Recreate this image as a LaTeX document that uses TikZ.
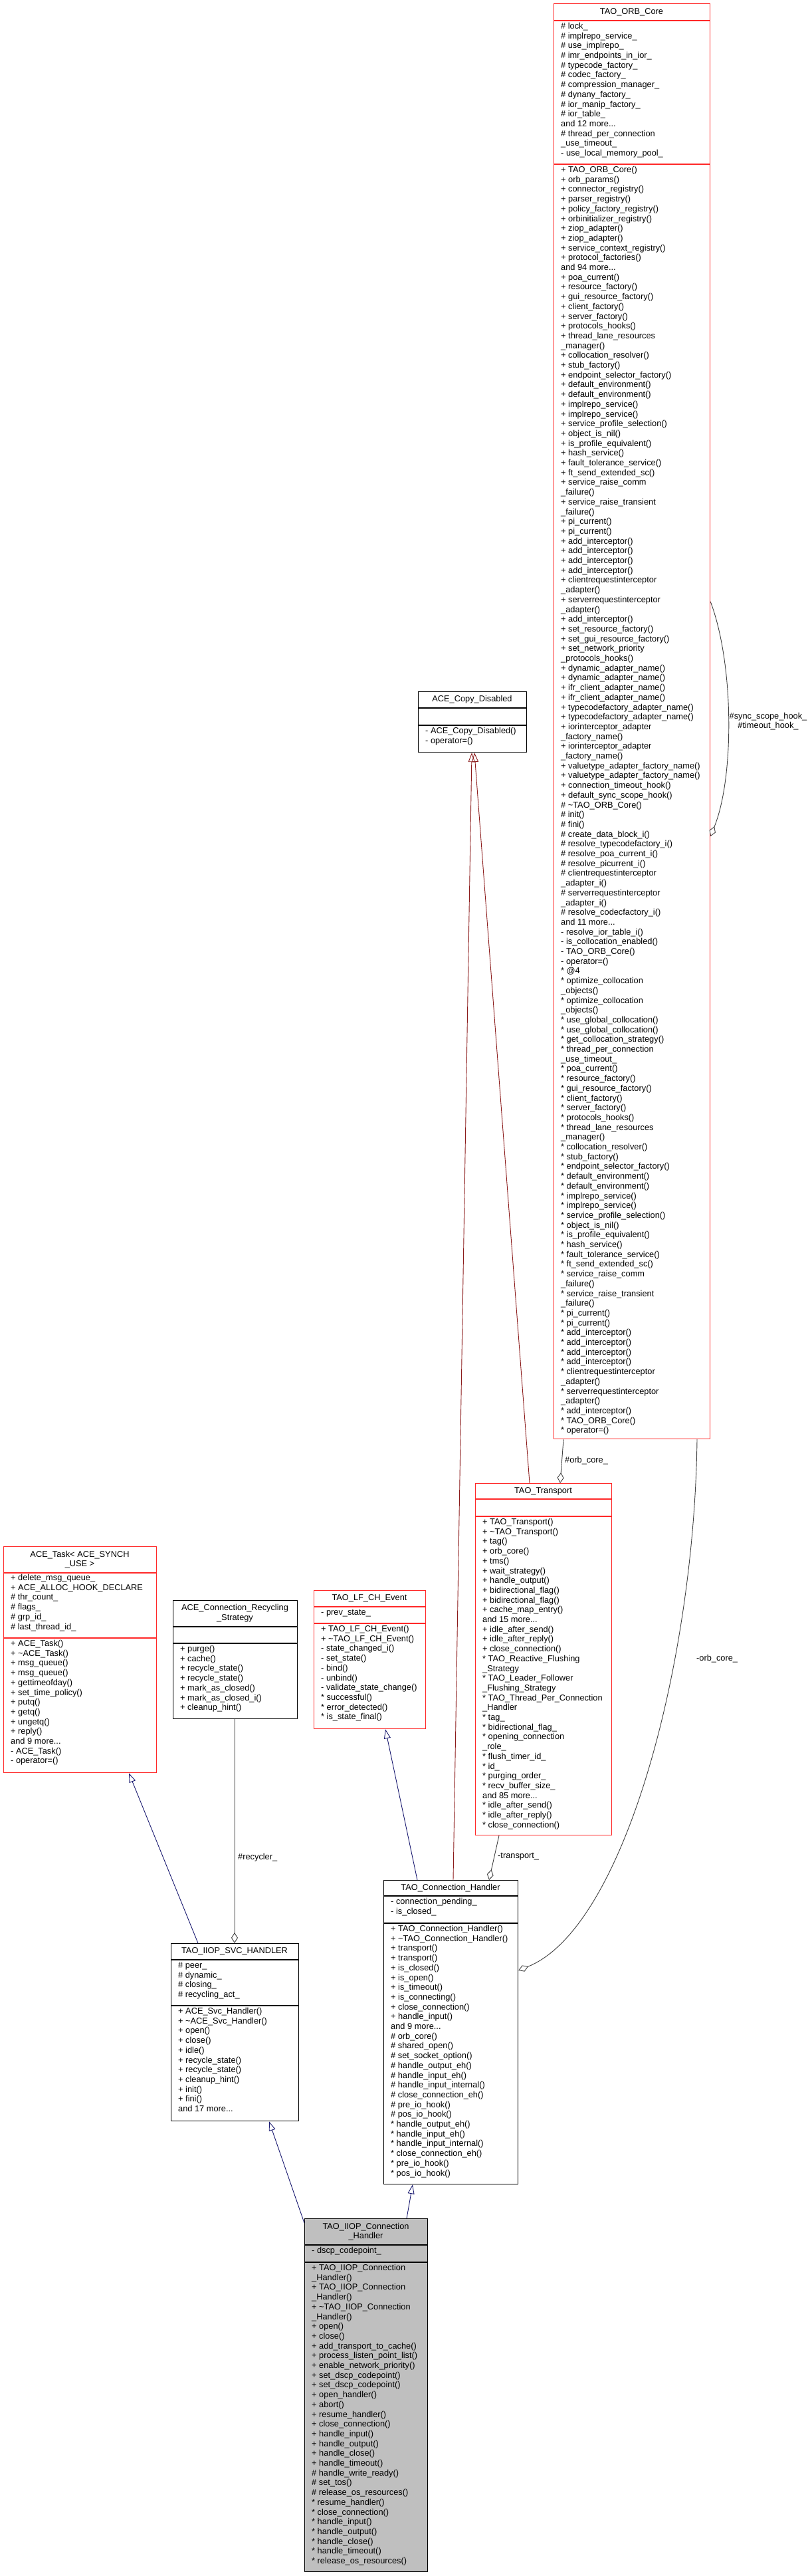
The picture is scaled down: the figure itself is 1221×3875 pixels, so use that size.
\documentclass[tikz,border=0pt]{standalone}
\usepackage{fontspec}
\setmainfont{Liberation Sans}
\usetikzlibrary{arrows.meta,calc}
\definecolor{redb}{RGB}{255,40,40}
\definecolor{inhc}{RGB}{25,25,112}
\definecolor{usec}{RGB}{64,64,64}
\definecolor{privc}{RGB}{139,26,26}
\definecolor{fillg}{RGB}{191,191,191}
\catcode`\_=12
\tikzset{
  x=1pt,y=-1pt,
  cls/.style={draw, line width=1.2pt, inner sep=0pt, anchor=north west},
  redbox/.style={cls, draw=redb},
  blkbox/.style={cls, draw=black},
  txt/.style={anchor=north west, inner sep=0pt, yshift=2pt, font=\fontsize{12.8}{14.7}\selectfont},
  ttl/.style={anchor=center, align=center, inner sep=0pt, font=\fontsize{12.8}{14.7}\selectfont},
  lbl/.style={anchor=west, align=center, inner sep=0pt, font=\fontsize{12.8}{14.7}\selectfont},
  inh/.style={draw=inhc, line width=0.9pt, -{Triangle[open, length=14pt, width=10pt]}},
  priv/.style={draw=privc, line width=0.9pt, -{Triangle[open, length=14pt, width=10pt]}},
  use/.style={draw=usec, line width=0.9pt, -{Diamond[open, length=16pt, width=10pt]}},
}
\newcommand{\tl}{\textasciitilde}
\newcommand{\st}{{*}}
\newcommand{\LL}[1]{\begin{tabular}{@{}l@{}}#1\end{tabular}}
\begin{document}
\begin{tikzpicture}
\useasboundingbox (0,0) rectangle (1221,3875);
\fill[white] (0,0) rectangle (1221,3875);

% ---------- TAO_ORB_Core
\node[redbox, minimum width=235pt, minimum height=2159pt] (orb) at (833,5) {};
\draw[redb, line width=1.2pt] (833,31) -- (1068,31) (833,247) -- (1068,247);
\node[ttl] (orbt) at (950.5,18) {TAO_ORB_Core};
\node[txt] (orba) at (844,35) {\LL{\# lock_\\\# implrepo_service_\\\# use_implrepo_\\\# imr_endpoints_in_ior_\\\# typecode_factory_\\\# codec_factory_\\\# compression_manager_\\\# dynany_factory_\\\# ior_manip_factory_\\\# ior_table_\\and 12 more...\\\# thread_per_connection\\_use_timeout_\\- use_local_memory_pool_}};
\node[txt] (orbm) at (844,251) {\LL{+ TAO_ORB_Core()\\+ orb_params()\\+ connector_registry()\\+ parser_registry()\\+ policy_factory_registry()\\+ orbinitializer_registry()\\+ ziop_adapter()\\+ ziop_adapter()\\+ service_context_registry()\\+ protocol_factories()\\and 94 more...\\+ poa_current()\\+ resource_factory()\\+ gui_resource_factory()\\+ client_factory()\\+ server_factory()\\+ protocols_hooks()\\+ thread_lane_resources\\_manager()\\+ collocation_resolver()\\+ stub_factory()\\+ endpoint_selector_factory()\\+ default_environment()\\+ default_environment()\\+ implrepo_service()\\+ implrepo_service()\\+ service_profile_selection()\\+ object_is_nil()\\+ is_profile_equivalent()\\+ hash_service()\\+ fault_tolerance_service()\\+ ft_send_extended_sc()\\+ service_raise_comm\\_failure()\\+ service_raise_transient\\_failure()\\+ pi_current()\\+ pi_current()\\+ add_interceptor()\\+ add_interceptor()\\+ add_interceptor()\\+ add_interceptor()\\+ clientrequestinterceptor\\_adapter()\\+ serverrequestinterceptor\\_adapter()\\+ add_interceptor()\\+ set_resource_factory()\\+ set_gui_resource_factory()\\+ set_network_priority\\_protocols_hooks()\\+ dynamic_adapter_name()\\+ dynamic_adapter_name()\\+ ifr_client_adapter_name()\\+ ifr_client_adapter_name()\\+ typecodefactory_adapter_name()\\+ typecodefactory_adapter_name()\\+ iorinterceptor_adapter\\_factory_name()\\+ iorinterceptor_adapter\\_factory_name()\\+ valuetype_adapter_factory_name()\\+ valuetype_adapter_factory_name()\\+ connection_timeout_hook()\\+ default_sync_scope_hook()\\\# \tl TAO_ORB_Core()\\\# init()\\\# fini()\\\# create_data_block_i()\\\# resolve_typecodefactory_i()\\\# resolve_poa_current_i()\\\# resolve_picurrent_i()\\\# clientrequestinterceptor\\_adapter_i()\\\# serverrequestinterceptor\\_adapter_i()\\\# resolve_codecfactory_i()\\and 11 more...\\- resolve_ior_table_i()\\- is_collocation_enabled()\\- TAO_ORB_Core()\\- operator=()\\\st{} @4\\\st{} optimize_collocation\\_objects()\\\st{} optimize_collocation\\_objects()\\\st{} use_global_collocation()\\\st{} use_global_collocation()\\\st{} get_collocation_strategy()\\\st{} thread_per_connection\\_use_timeout_\\\st{} poa_current()\\\st{} resource_factory()\\\st{} gui_resource_factory()\\\st{} client_factory()\\\st{} server_factory()\\\st{} protocols_hooks()\\\st{} thread_lane_resources\\_manager()\\\st{} collocation_resolver()\\\st{} stub_factory()\\\st{} endpoint_selector_factory()\\\st{} default_environment()\\\st{} default_environment()\\\st{} implrepo_service()\\\st{} implrepo_service()\\\st{} service_profile_selection()\\\st{} object_is_nil()\\\st{} is_profile_equivalent()\\\st{} hash_service()\\\st{} fault_tolerance_service()\\\st{} ft_send_extended_sc()\\\st{} service_raise_comm\\_failure()\\\st{} service_raise_transient\\_failure()\\\st{} pi_current()\\\st{} pi_current()\\\st{} add_interceptor()\\\st{} add_interceptor()\\\st{} add_interceptor()\\\st{} add_interceptor()\\\st{} clientrequestinterceptor\\_adapter()\\\st{} serverrequestinterceptor\\_adapter()\\\st{} add_interceptor()\\\st{} TAO_ORB_Core()\\\st{} operator=()}};

% ---------- ACE_Copy_Disabled
\node[blkbox, minimum width=163pt, minimum height=91pt] (cd) at (629,1040) {};
\draw[black, line width=1.2pt] (629,1065) -- (792,1065) (629,1091) -- (792,1091);
\node[ttl] (cdt) at (710.5,1052.5) {ACE_Copy_Disabled};
\node[txt] (cdm) at (640,1095) {\LL{- ACE_Copy_Disabled()\\- operator=()}};

% ---------- ACE_Task
\node[redbox, minimum width=230pt, minimum height=340pt] (task) at (5,2326) {};
\draw[redb, line width=1.2pt] (5,2366) -- (235,2366) (5,2464) -- (235,2464);
\node[ttl] (taskt) at (120,2346) {ACE_Task< ACE_SYNCH\\_USE >};
\node[txt] (taska) at (16,2369) {\LL{+ delete_msg_queue_\\+ ACE_ALLOC_HOOK_DECLARE\\\# thr_count_\\\# flags_\\\# grp_id_\\\# last_thread_id_}};
\node[txt] (taskm) at (16,2468) {\LL{+ ACE_Task()\\+ \tl ACE_Task()\\+ msg_queue()\\+ msg_queue()\\+ gettimeofday()\\+ set_time_policy()\\+ putq()\\+ getq()\\+ ungetq()\\+ reply()\\and 9 more...\\- ACE_Task()\\- operator=()}};

% ---------- ACE_Connection_Recycling_Strategy
\node[blkbox, minimum width=187pt, minimum height=178pt] (rec) at (260,2407) {};
\draw[black, line width=1.2pt] (260,2447) -- (447,2447) (260,2472) -- (447,2472);
\node[ttl] (rect) at (353.5,2427) {ACE_Connection_Recycling\\_Strategy};
\node[txt] (recm) at (271,2476) {\LL{+ purge()\\+ cache()\\+ recycle_state()\\+ recycle_state()\\+ mark_as_closed()\\+ mark_as_closed_i()\\+ cleanup_hint()}};

% ---------- TAO_LF_CH_Event
\node[redbox, minimum width=168pt, minimum height=208pt] (lf) at (472,2392) {};
\draw[redb, line width=1.2pt] (472,2417) -- (640,2417) (472,2442) -- (640,2442);
\node[ttl] (lft) at (556,2404.5) {TAO_LF_CH_Event};
\node[txt] (lfa) at (483,2421) {\LL{- prev_state_}};
\node[txt] (lfm) at (483,2446) {\LL{+ TAO_LF_CH_Event()\\+ \tl TAO_LF_CH_Event()\\- state_changed_i()\\- set_state()\\- bind()\\- unbind()\\- validate_state_change()\\\st{} successful()\\\st{} error_detected()\\\st{} is_state_final()}};

% ---------- TAO_Transport
\node[redbox, minimum width=205pt, minimum height=529pt] (tr) at (715,2231) {};
\draw[redb, line width=1.2pt] (715,2255) -- (920,2255) (715,2281) -- (920,2281);
\node[ttl] (trt) at (817.5,2243) {TAO_Transport};
\node[txt] (trm) at (726,2285) {\LL{+ TAO_Transport()\\+ \tl TAO_Transport()\\+ tag()\\+ orb_core()\\+ tms()\\+ wait_strategy()\\+ handle_output()\\+ bidirectional_flag()\\+ bidirectional_flag()\\+ cache_map_entry()\\and 15 more...\\+ idle_after_send()\\+ idle_after_reply()\\+ close_connection()\\\st{} TAO_Reactive_Flushing\\_Strategy\\\st{} TAO_Leader_Follower\\_Flushing_Strategy\\\st{} TAO_Thread_Per_Connection\\_Handler\\\st{} tag_\\\st{} bidirectional_flag_\\\st{} opening_connection\\_role_\\\st{} flush_timer_id_\\\st{} id_\\\st{} purging_order_\\\st{} recv_buffer_size_\\and 85 more...\\\st{} idle_after_send()\\\st{} idle_after_reply()\\\st{} close_connection()}};

% ---------- TAO_IIOP_SVC_HANDLER
\node[blkbox, minimum width=192pt, minimum height=267pt] (svc) at (257,2923) {};
\draw[black, line width=1.2pt] (257,2948) -- (449,2948) (257,3017) -- (449,3017);
\node[ttl] (svct) at (353,2935.5) {TAO_IIOP_SVC_HANDLER};
\node[txt] (svca) at (268,2952) {\LL{\# peer_\\\# dynamic_\\\# closing_\\\# recycling_act_}};
\node[txt] (svcm) at (268,3021) {\LL{+ ACE_Svc_Handler()\\+ \tl ACE_Svc_Handler()\\+ open()\\+ close()\\+ idle()\\+ recycle_state()\\+ recycle_state()\\+ cleanup_hint()\\+ init()\\+ fini()\\and 17 more...}};

% ---------- TAO_Connection_Handler
\node[blkbox, minimum width=202pt, minimum height=457pt] (ch) at (577,2828) {};
\draw[black, line width=1.2pt] (577,2852) -- (779,2852) (577,2893) -- (779,2893);
\node[ttl] (cht) at (678,2840) {TAO_Connection_Handler};
\node[txt] (cha) at (588,2856) {\LL{- connection_pending_\\- is_closed_}};
\node[txt] (chm) at (588,2897) {\LL{+ TAO_Connection_Handler()\\+ \tl TAO_Connection_Handler()\\+ transport()\\+ transport()\\+ is_closed()\\+ is_open()\\+ is_timeout()\\+ is_connecting()\\+ close_connection()\\+ handle_input()\\and 9 more...\\\# orb_core()\\\# shared_open()\\\# set_socket_option()\\\# handle_output_eh()\\\# handle_input_eh()\\\# handle_input_internal()\\\# close_connection_eh()\\\# pre_io_hook()\\\# pos_io_hook()\\\st{} handle_output_eh()\\\st{} handle_input_eh()\\\st{} handle_input_internal()\\\st{} close_connection_eh()\\\st{} pre_io_hook()\\\st{} pos_io_hook()}};

% ---------- TAO_IIOP_Connection_Handler
\node[blkbox, fill=fillg, minimum width=185pt, minimum height=531pt] (iiop) at (458,3337) {};
\draw[black, line width=1.2pt] (458,3377) -- (643,3377) (458,3403) -- (643,3403);
\node[ttl] (iiopt) at (550.5,3357) {TAO_IIOP_Connection\\_Handler};
\node[txt] (iiopa) at (469,3381) {\LL{- dscp_codepoint_}};
\node[txt] (iiopm) at (469,3407) {\LL{+ TAO_IIOP_Connection\\_Handler()\\+ TAO_IIOP_Connection\\_Handler()\\+ \tl TAO_IIOP_Connection\\_Handler()\\+ open()\\+ close()\\+ add_transport_to_cache()\\+ process_listen_point_list()\\+ enable_network_priority()\\+ set_dscp_codepoint()\\+ set_dscp_codepoint()\\+ open_handler()\\+ abort()\\+ resume_handler()\\+ close_connection()\\+ handle_input()\\+ handle_output()\\+ handle_close()\\+ handle_timeout()\\\# handle_write_ready()\\\# set_tos()\\\# release_os_resources()\\\st{} resume_handler()\\\st{} close_connection()\\\st{} handle_input()\\\st{} handle_output()\\\st{} handle_close()\\\st{} handle_timeout()\\\st{} release_os_resources()}};

% ---------- connectors
\draw[use] ($(orb.north east)+(0,900)$) .. controls (1105,1000) and (1105,1170) .. ($(orb.north east)+(0,1253)$);
\node[ttl] (lbl1) at (1156,1085) {\#sync_scope_hook_\\\#timeout_hook_};
\draw[use] ($(orb.south west)+(15,0)$) -- ($(tr.north west)+(128,0)$);
\node[lbl] (lbl2) at (850,2197) {\#orb_core_};
\draw[use] ($(orb.south west)+(216,0)$) .. controls (1045,2500) and (940,2900) .. ($(ch.north east)+(0,136)$);
\node[lbl] (lbl3) at (1048,2495) {-orb_core_};
\draw[use] ($(tr.south west)+(36,0)$) -- ($(ch.north west)+(159,0)$);
\node[lbl] (lbl4) at (749,2793) {-transport_};
\draw[use] ($(rec.south west)+(93,0)$) -- ($(svc.north west)+(96,0)$);
\node[lbl] (lbl5) at (358,2794) {\#recycler_};
\draw[priv] ($(tr.north west)+(82,0)$) -- ($(cd.south west)+(85,0)$);
\draw[priv] ($(ch.north west)+(105,0)$) -- ($(cd.south west)+(81,0)$);
\draw[inh] ($(svc.north west)+(41,0)$) -- ($(task.south west)+(189,0)$);
\draw[inh] ($(ch.north west)+(51,0)$) -- ($(lf.south west)+(108,0)$);
\draw[inh] ($(iiop.north west)+(154,0)$) -- ($(ch.south west)+(44,0)$);
\draw[inh] ($(iiop.north west)+(0,7)$) -- ($(svc.south west)+(148,0)$);
\end{tikzpicture}
\end{document}
